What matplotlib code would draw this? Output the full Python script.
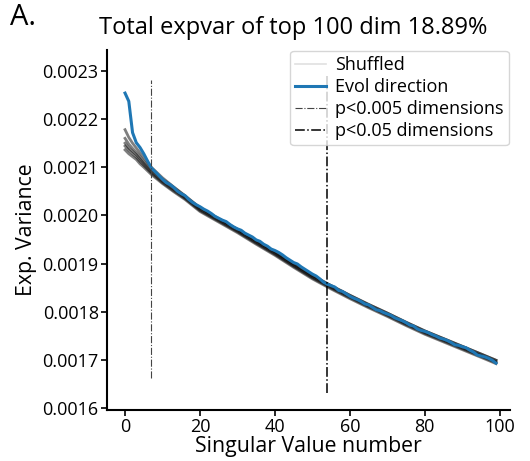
import matplotlib.pyplot as plt
import numpy as np

plt.rcParams['font.family'] = ['Open Sans', 'DejaVu Sans']

# shuffled control curves, read at a few singular value indices
shuf_x = [0, 1, 2, 3, 4, 5, 7, 10, 13, 16, 20, 25, 30, 35, 40, 45, 50,
          55, 60, 65, 70, 75, 80, 85, 90, 95, 99]
shuf_1 = [0.002178, 0.002162, 0.002150, 0.002140, 0.002130, 0.002120, 0.002100,
          0.002078, 0.002059, 0.002041, 0.002016, 0.001993, 0.001971, 0.001947,
          0.001924, 0.001899, 0.001875, 0.001854, 0.001834, 0.001815, 0.001797,
          0.001778, 0.001760, 0.001744, 0.001728, 0.001712, 0.001699]
shuf_2 = [0.002160, 0.002148, 0.002139, 0.002131, 0.002122, 0.002112, 0.002095,
          0.002075, 0.002058, 0.002040, 0.002015, 0.001993, 0.001971, 0.001947,
          0.001924, 0.001899, 0.001875, 0.001854, 0.001834, 0.001815, 0.001797,
          0.001778, 0.001760, 0.001744, 0.001728, 0.001712, 0.001699]
shuf_3 = [0.002150, 0.002140, 0.002133, 0.002126, 0.002117, 0.002108, 0.002091,
          0.002071, 0.002054, 0.002037, 0.002012, 0.001990, 0.001968, 0.001944,
          0.001921, 0.001896, 0.001872, 0.001851, 0.001831, 0.001812, 0.001794,
          0.001775, 0.001757, 0.001741, 0.001725, 0.001709, 0.001696]
shuf_4 = [0.002144, 0.002135, 0.002128, 0.002121, 0.002112, 0.002104, 0.002088,
          0.002068, 0.002051, 0.002035, 0.002010, 0.001988, 0.001966, 0.001942,
          0.001919, 0.001894, 0.001870, 0.001849, 0.001829, 0.001810, 0.001792,
          0.001773, 0.001755, 0.001739, 0.001723, 0.001707, 0.001694]
shuf_5 = [0.002136, 0.002128, 0.002122, 0.002116, 0.002107, 0.002100, 0.002085,
          0.002066, 0.002049, 0.002033, 0.002008, 0.001986, 0.001964, 0.001940,
          0.001917, 0.001892, 0.001868, 0.001847, 0.001827, 0.001808, 0.001790,
          0.001771, 0.001753, 0.001737, 0.001721, 0.001705, 0.001692]
shuffled = [shuf_1, shuf_2, shuf_3, shuf_4, shuf_5]

# evolution direction spectrum (100 dims)
evol = [0.002254, 0.002237, 0.002172, 0.002151, 0.002141, 0.002128, 0.002113, 0.002099,
        0.002091, 0.002083, 0.002075, 0.002068, 0.002064, 0.002058, 0.002050, 0.002045,
        0.002041, 0.002033, 0.002027, 0.002022, 0.002018, 0.002013, 0.002009, 0.002004,
        0.001998, 0.001994, 0.001990, 0.001987, 0.001981, 0.001976, 0.001972, 0.001969,
        0.001963, 0.001959, 0.001955, 0.001949, 0.001946, 0.001940, 0.001936, 0.001930,
        0.001927, 0.001923, 0.001918, 0.001912, 0.001907, 0.001902, 0.001899, 0.001893,
        0.001888, 0.001883, 0.001878, 0.001874, 0.001868, 0.001861, 0.001857, 0.001854,
        0.001851, 0.001844, 0.001842, 0.001837, 0.001832, 0.001828, 0.001825, 0.001821,
        0.001816, 0.001814, 0.001809, 0.001804, 0.001802, 0.001798, 0.001795, 0.001792,
        0.001787, 0.001784, 0.001781, 0.001777, 0.001772, 0.001770, 0.001764, 0.001761,
        0.001759, 0.001756, 0.001752, 0.001749, 0.001745, 0.001743, 0.001740, 0.001736,
        0.001731, 0.001730, 0.001727, 0.001725, 0.001720, 0.001716, 0.001710, 0.001708,
        0.001706, 0.001703, 0.001699, 0.001693]

p005_dim = 7
p05_dim = 54

fig = plt.figure(figsize=(5.3, 4.61), dpi=100)
ax = fig.add_axes([0.202, 0.111, 0.760, 0.781])

for i, s in enumerate(shuffled):
    ax.plot(shuf_x, s, color="k", lw=2.0, alpha=0.5,
            label="Shuffled" if i == 0 else None)
ax.plot(np.arange(len(evol)), evol, color="#1f77b4", lw=2.2, label="Evol direction")
ax.vlines(p005_dim, 0.001663, 0.002282, color="#444444", lw=0.8,
          linestyles="dashdot", label="p<0.005 dimensions")
ax.vlines(p05_dim, 0.001632, 0.002290, color="k", lw=1.1,
          linestyles="dashdot", label="p<0.05 dimensions")

ax.set_xlim(-4.8, 102.7)
ax.set_ylim(0.001596, 0.002344)
ax.set_xticks([0, 20, 40, 60, 80, 100])
ax.set_yticks([0.0016, 0.0017, 0.0018, 0.0019, 0.0020, 0.0021, 0.0022, 0.0023])
ax.set_yticklabels(["0.0016", "0.0017", "0.0018", "0.0019", "0.0020", "0.0021",
                    "0.0022", "0.0023"])
ax.tick_params(labelsize=13, width=1.2, length=4, pad=2)
for sp in ["top", "right"]:
    ax.spines[sp].set_visible(False)
for sp in ["left", "bottom"]:
    ax.spines[sp].set_linewidth(1.5)

ax.set_xlabel("Singular Value number", fontsize=15.3, labelpad=0)
ax.set_ylabel("Exp. Variance", fontsize=15.3, labelpad=4)

leg = ax.legend(loc="upper right", fontsize=13, handlelength=1.7,
                borderaxespad=0.05, labelspacing=0.22, handletextpad=0.5,
                borderpad=0.3)
leg.legend_handles[0].set_alpha(0.12)
leg.legend_handles[0].set_linewidth(1.2)

fig.text(0.553, 0.94, "Total expvar of top 100 dim 18.89%", fontsize=17,
         ha="center", va="center")
fig.text(0.018, 0.962, "A.", fontsize=21, ha="left", va="center")

fig.savefig("out.png", dpi=100)
